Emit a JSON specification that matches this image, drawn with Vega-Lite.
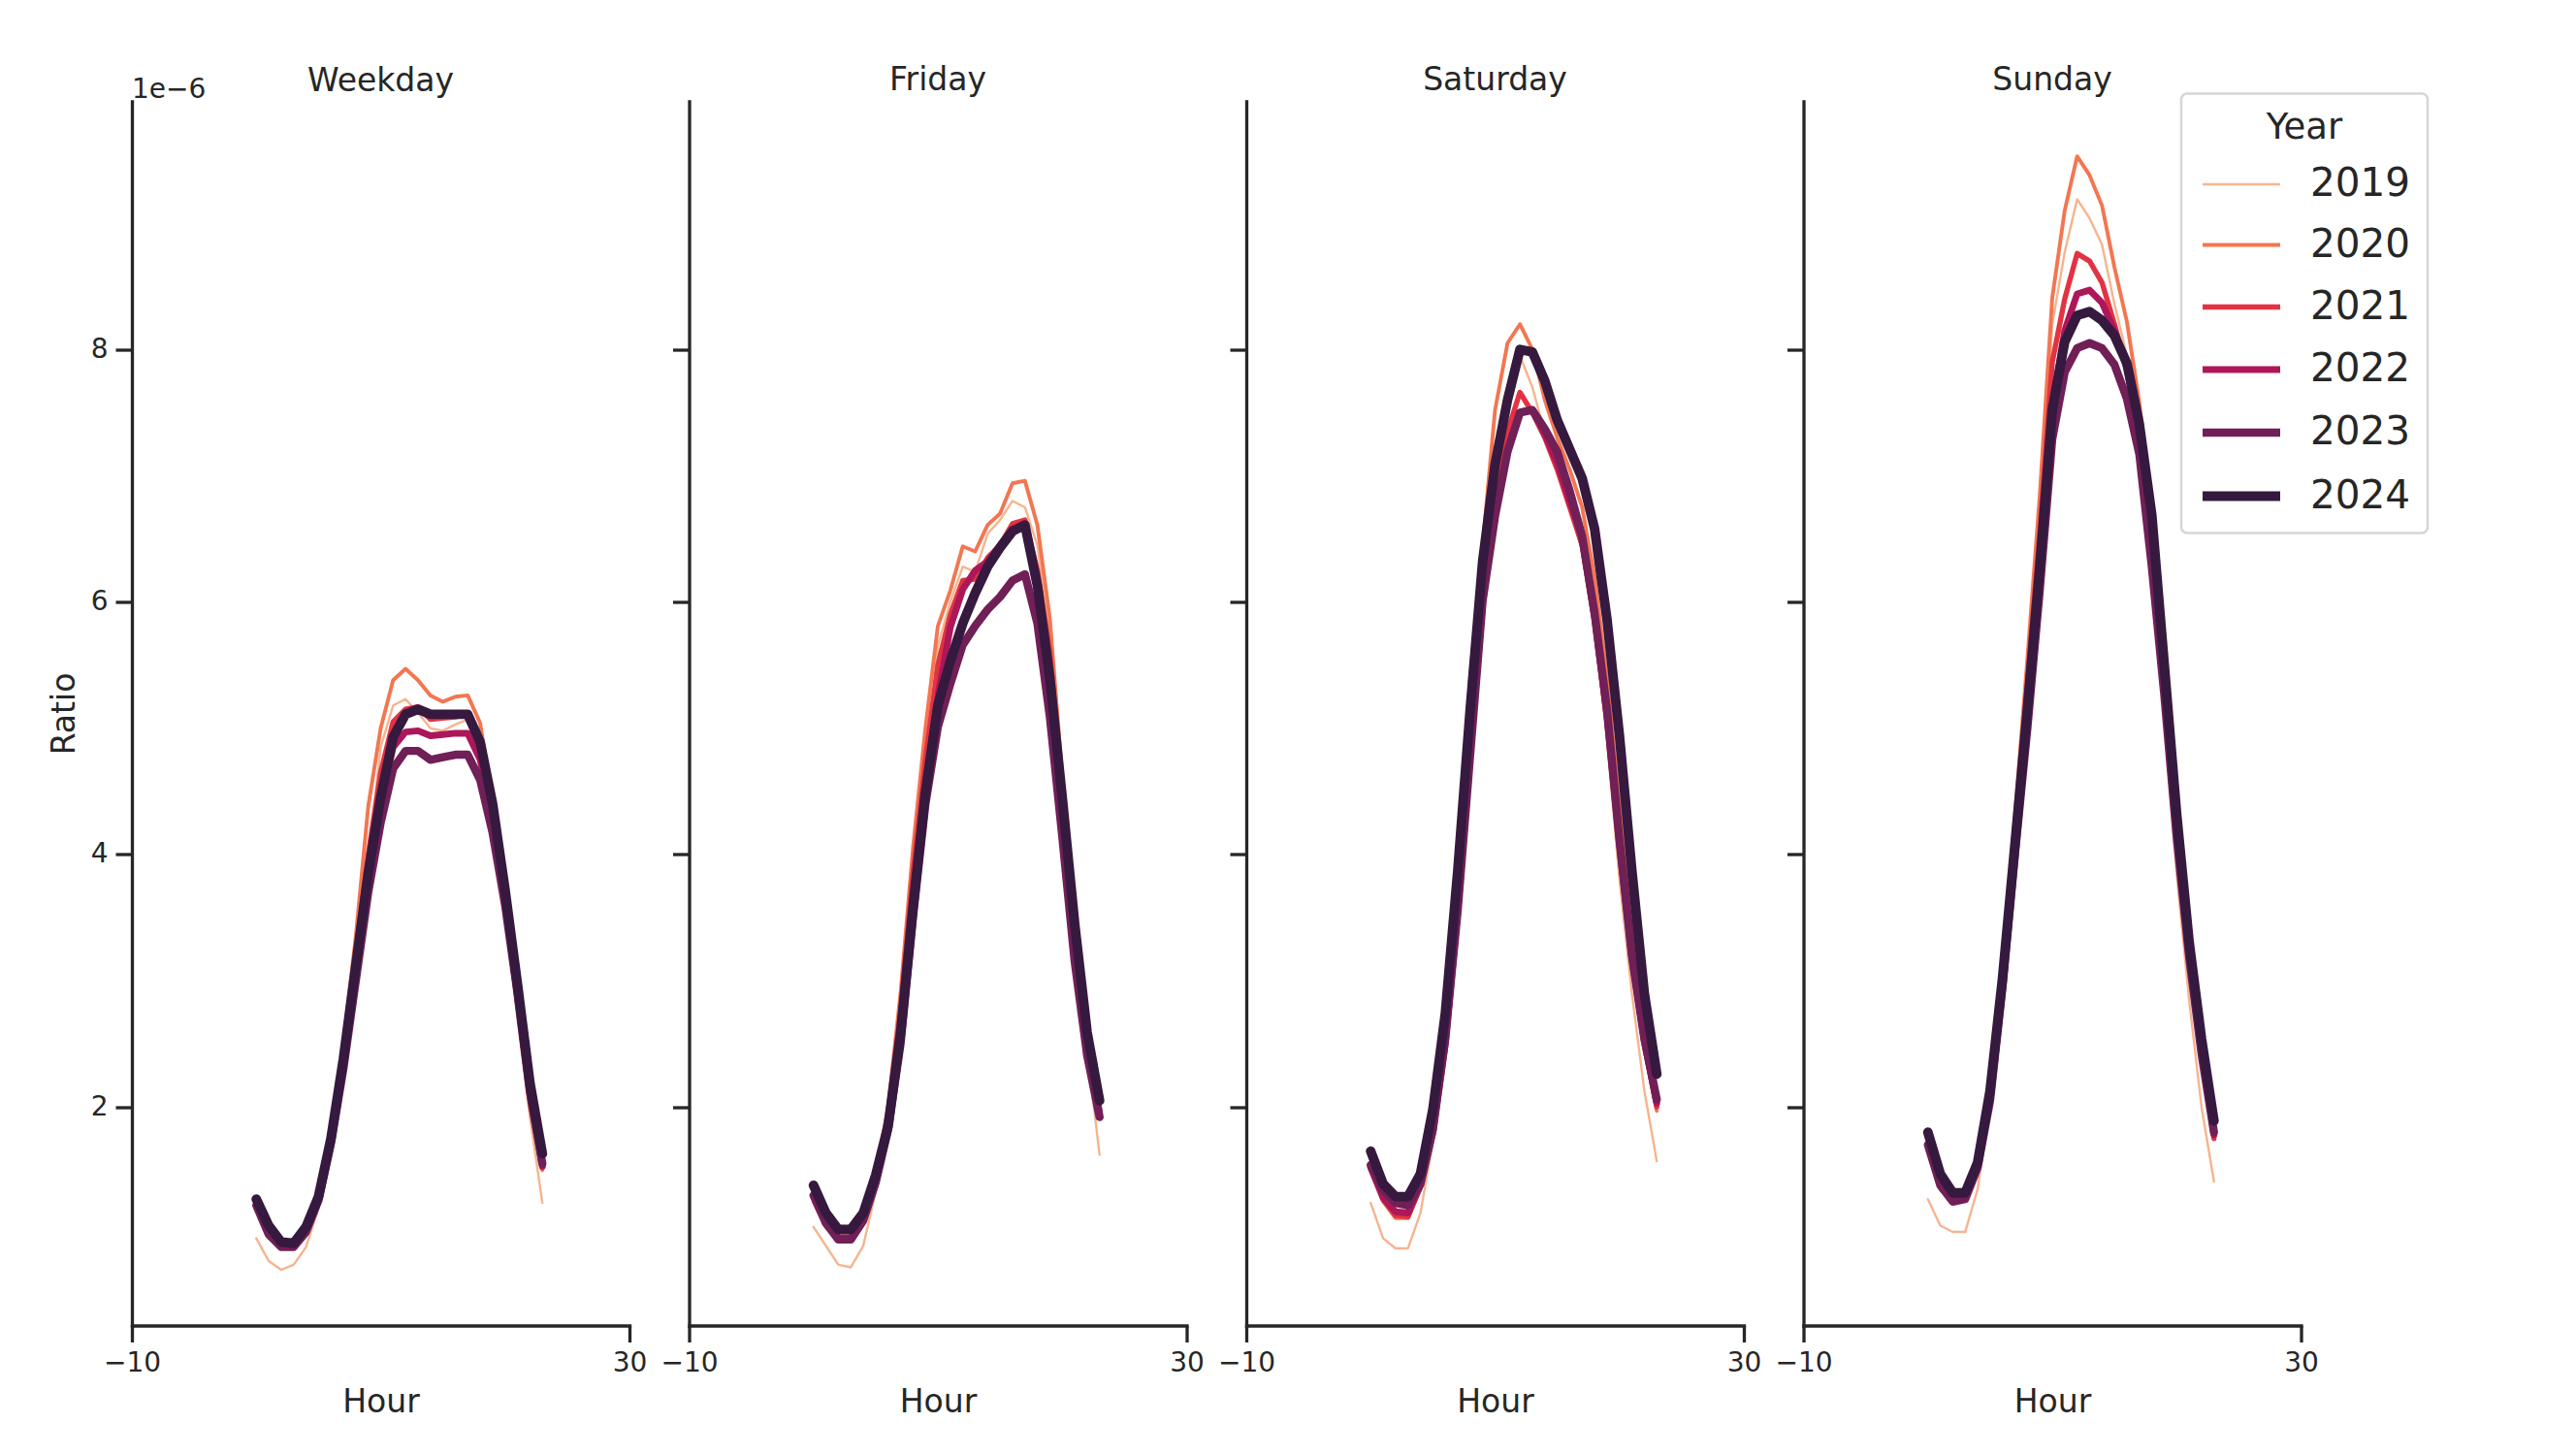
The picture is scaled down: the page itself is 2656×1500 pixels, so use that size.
{
"$schema": "https://vega.github.io/schema/vega-lite/v6.json",
"background": "white",
"padding": {"left": 50, "top": 66.5, "right": 20, "bottom": 20},
"config": {
  "font": "DejaVu Sans",
  "view": {"stroke": null},
  "axis": {"domainColor": "#262626", "domainWidth": 3.3, "domainCap": "square", "tickColor": "#262626", "tickWidth": 3.3, "tickSize": 17, "labelFontSize": 28, "labelColor": "#262626", "titleFontSize": 33, "titleFontWeight": "normal", "titleColor": "#262626", "grid": false, "labelPadding": 8, "titlePadding": 10, "labelFlush": false, "labelOverlap": false},
  "title": {"fontSize": 33, "fontWeight": "normal", "color": "#262626", "offset": 5, "anchor": "middle"},
  "legend": {"titleFontSize": 37, "titleFontWeight": "normal", "titleColor": "#262626", "labelFontSize": 40.5, "labelColor": "#262626", "strokeColor": "#d6d6d6", "strokeWidth": 2.5, "cornerRadius": 6, "padding": 17, "fillColor": "white", "labelOffset": 26, "rowPadding": 0, "titlePadding": -2, "titleAnchor": "middle", "symbolType": "stroke", "symbolSize": 6400}
},
"datasets": {"ratios": [
{"Day":"Weekday","Year":2019,"Hour":0,"Ratio":0.96e-6},{"Day":"Weekday","Year":2019,"Hour":1,"Ratio":0.78e-6},{"Day":"Weekday","Year":2019,"Hour":2,"Ratio":0.71e-6},{"Day":"Weekday","Year":2019,"Hour":3,"Ratio":0.75e-6},{"Day":"Weekday","Year":2019,"Hour":4,"Ratio":0.89e-6},{"Day":"Weekday","Year":2019,"Hour":5,"Ratio":1.20e-6},{"Day":"Weekday","Year":2019,"Hour":6,"Ratio":1.75e-6},{"Day":"Weekday","Year":2019,"Hour":7,"Ratio":2.42e-6},{"Day":"Weekday","Year":2019,"Hour":8,"Ratio":3.15e-6},{"Day":"Weekday","Year":2019,"Hour":9,"Ratio":3.95e-6},{"Day":"Weekday","Year":2019,"Hour":10,"Ratio":4.85e-6},{"Day":"Weekday","Year":2019,"Hour":11,"Ratio":5.18e-6},{"Day":"Weekday","Year":2019,"Hour":12,"Ratio":5.23e-6},{"Day":"Weekday","Year":2019,"Hour":13,"Ratio":5.12e-6},{"Day":"Weekday","Year":2019,"Hour":14,"Ratio":5.00e-6},{"Day":"Weekday","Year":2019,"Hour":15,"Ratio":4.98e-6},{"Day":"Weekday","Year":2019,"Hour":16,"Ratio":5.03e-6},{"Day":"Weekday","Year":2019,"Hour":17,"Ratio":5.07e-6},{"Day":"Weekday","Year":2019,"Hour":18,"Ratio":4.86e-6},{"Day":"Weekday","Year":2019,"Hour":19,"Ratio":4.32e-6},{"Day":"Weekday","Year":2019,"Hour":20,"Ratio":3.55e-6},{"Day":"Weekday","Year":2019,"Hour":21,"Ratio":2.70e-6},{"Day":"Weekday","Year":2019,"Hour":22,"Ratio":1.92e-6},{"Day":"Weekday","Year":2019,"Hour":23,"Ratio":1.24e-6},
{"Day":"Weekday","Year":2020,"Hour":0,"Ratio":1.20e-6},{"Day":"Weekday","Year":2020,"Hour":1,"Ratio":0.97e-6},{"Day":"Weekday","Year":2020,"Hour":2,"Ratio":0.88e-6},{"Day":"Weekday","Year":2020,"Hour":3,"Ratio":0.88e-6},{"Day":"Weekday","Year":2020,"Hour":4,"Ratio":1.00e-6},{"Day":"Weekday","Year":2020,"Hour":5,"Ratio":1.25e-6},{"Day":"Weekday","Year":2020,"Hour":6,"Ratio":1.75e-6},{"Day":"Weekday","Year":2020,"Hour":7,"Ratio":2.50e-6},{"Day":"Weekday","Year":2020,"Hour":8,"Ratio":3.35e-6},{"Day":"Weekday","Year":2020,"Hour":9,"Ratio":4.38e-6},{"Day":"Weekday","Year":2020,"Hour":10,"Ratio":5.00e-6},{"Day":"Weekday","Year":2020,"Hour":11,"Ratio":5.38e-6},{"Day":"Weekday","Year":2020,"Hour":12,"Ratio":5.47e-6},{"Day":"Weekday","Year":2020,"Hour":13,"Ratio":5.38e-6},{"Day":"Weekday","Year":2020,"Hour":14,"Ratio":5.26e-6},{"Day":"Weekday","Year":2020,"Hour":15,"Ratio":5.21e-6},{"Day":"Weekday","Year":2020,"Hour":16,"Ratio":5.25e-6},{"Day":"Weekday","Year":2020,"Hour":17,"Ratio":5.26e-6},{"Day":"Weekday","Year":2020,"Hour":18,"Ratio":5.04e-6},{"Day":"Weekday","Year":2020,"Hour":19,"Ratio":4.40e-6},{"Day":"Weekday","Year":2020,"Hour":20,"Ratio":3.65e-6},{"Day":"Weekday","Year":2020,"Hour":21,"Ratio":2.80e-6},{"Day":"Weekday","Year":2020,"Hour":22,"Ratio":2.00e-6},{"Day":"Weekday","Year":2020,"Hour":23,"Ratio":1.50e-6},
{"Day":"Weekday","Year":2021,"Hour":0,"Ratio":1.22e-6},{"Day":"Weekday","Year":2021,"Hour":1,"Ratio":1.00e-6},{"Day":"Weekday","Year":2021,"Hour":2,"Ratio":0.90e-6},{"Day":"Weekday","Year":2021,"Hour":3,"Ratio":0.90e-6},{"Day":"Weekday","Year":2021,"Hour":4,"Ratio":1.02e-6},{"Day":"Weekday","Year":2021,"Hour":5,"Ratio":1.27e-6},{"Day":"Weekday","Year":2021,"Hour":6,"Ratio":1.75e-6},{"Day":"Weekday","Year":2021,"Hour":7,"Ratio":2.40e-6},{"Day":"Weekday","Year":2021,"Hour":8,"Ratio":3.20e-6},{"Day":"Weekday","Year":2021,"Hour":9,"Ratio":4.00e-6},{"Day":"Weekday","Year":2021,"Hour":10,"Ratio":4.65e-6},{"Day":"Weekday","Year":2021,"Hour":11,"Ratio":5.05e-6},{"Day":"Weekday","Year":2021,"Hour":12,"Ratio":5.15e-6},{"Day":"Weekday","Year":2021,"Hour":13,"Ratio":5.17e-6},{"Day":"Weekday","Year":2021,"Hour":14,"Ratio":5.07e-6},{"Day":"Weekday","Year":2021,"Hour":15,"Ratio":5.08e-6},{"Day":"Weekday","Year":2021,"Hour":16,"Ratio":5.09e-6},{"Day":"Weekday","Year":2021,"Hour":17,"Ratio":5.11e-6},{"Day":"Weekday","Year":2021,"Hour":18,"Ratio":4.90e-6},{"Day":"Weekday","Year":2021,"Hour":19,"Ratio":4.38e-6},{"Day":"Weekday","Year":2021,"Hour":20,"Ratio":3.65e-6},{"Day":"Weekday","Year":2021,"Hour":21,"Ratio":2.88e-6},{"Day":"Weekday","Year":2021,"Hour":22,"Ratio":2.10e-6},{"Day":"Weekday","Year":2021,"Hour":23,"Ratio":1.52e-6},
{"Day":"Weekday","Year":2022,"Hour":0,"Ratio":1.22e-6},{"Day":"Weekday","Year":2022,"Hour":1,"Ratio":0.99e-6},{"Day":"Weekday","Year":2022,"Hour":2,"Ratio":0.89e-6},{"Day":"Weekday","Year":2022,"Hour":3,"Ratio":0.89e-6},{"Day":"Weekday","Year":2022,"Hour":4,"Ratio":1.01e-6},{"Day":"Weekday","Year":2022,"Hour":5,"Ratio":1.27e-6},{"Day":"Weekday","Year":2022,"Hour":6,"Ratio":1.73e-6},{"Day":"Weekday","Year":2022,"Hour":7,"Ratio":2.35e-6},{"Day":"Weekday","Year":2022,"Hour":8,"Ratio":3.10e-6},{"Day":"Weekday","Year":2022,"Hour":9,"Ratio":3.85e-6},{"Day":"Weekday","Year":2022,"Hour":10,"Ratio":4.40e-6},{"Day":"Weekday","Year":2022,"Hour":11,"Ratio":4.85e-6},{"Day":"Weekday","Year":2022,"Hour":12,"Ratio":4.97e-6},{"Day":"Weekday","Year":2022,"Hour":13,"Ratio":4.98e-6},{"Day":"Weekday","Year":2022,"Hour":14,"Ratio":4.94e-6},{"Day":"Weekday","Year":2022,"Hour":15,"Ratio":4.95e-6},{"Day":"Weekday","Year":2022,"Hour":16,"Ratio":4.96e-6},{"Day":"Weekday","Year":2022,"Hour":17,"Ratio":4.96e-6},{"Day":"Weekday","Year":2022,"Hour":18,"Ratio":4.75e-6},{"Day":"Weekday","Year":2022,"Hour":19,"Ratio":4.28e-6},{"Day":"Weekday","Year":2022,"Hour":20,"Ratio":3.62e-6},{"Day":"Weekday","Year":2022,"Hour":21,"Ratio":2.88e-6},{"Day":"Weekday","Year":2022,"Hour":22,"Ratio":2.10e-6},{"Day":"Weekday","Year":2022,"Hour":23,"Ratio":1.53e-6},
{"Day":"Weekday","Year":2023,"Hour":0,"Ratio":1.22e-6},{"Day":"Weekday","Year":2023,"Hour":1,"Ratio":0.99e-6},{"Day":"Weekday","Year":2023,"Hour":2,"Ratio":0.89e-6},{"Day":"Weekday","Year":2023,"Hour":3,"Ratio":0.89e-6},{"Day":"Weekday","Year":2023,"Hour":4,"Ratio":1.01e-6},{"Day":"Weekday","Year":2023,"Hour":5,"Ratio":1.26e-6},{"Day":"Weekday","Year":2023,"Hour":6,"Ratio":1.71e-6},{"Day":"Weekday","Year":2023,"Hour":7,"Ratio":2.30e-6},{"Day":"Weekday","Year":2023,"Hour":8,"Ratio":3.00e-6},{"Day":"Weekday","Year":2023,"Hour":9,"Ratio":3.70e-6},{"Day":"Weekday","Year":2023,"Hour":10,"Ratio":4.25e-6},{"Day":"Weekday","Year":2023,"Hour":11,"Ratio":4.68e-6},{"Day":"Weekday","Year":2023,"Hour":12,"Ratio":4.82e-6},{"Day":"Weekday","Year":2023,"Hour":13,"Ratio":4.82e-6},{"Day":"Weekday","Year":2023,"Hour":14,"Ratio":4.75e-6},{"Day":"Weekday","Year":2023,"Hour":15,"Ratio":4.77e-6},{"Day":"Weekday","Year":2023,"Hour":16,"Ratio":4.79e-6},{"Day":"Weekday","Year":2023,"Hour":17,"Ratio":4.79e-6},{"Day":"Weekday","Year":2023,"Hour":18,"Ratio":4.59e-6},{"Day":"Weekday","Year":2023,"Hour":19,"Ratio":4.17e-6},{"Day":"Weekday","Year":2023,"Hour":20,"Ratio":3.60e-6},{"Day":"Weekday","Year":2023,"Hour":21,"Ratio":2.90e-6},{"Day":"Weekday","Year":2023,"Hour":22,"Ratio":2.12e-6},{"Day":"Weekday","Year":2023,"Hour":23,"Ratio":1.55e-6},
{"Day":"Weekday","Year":2024,"Hour":0,"Ratio":1.27e-6},{"Day":"Weekday","Year":2024,"Hour":1,"Ratio":1.06e-6},{"Day":"Weekday","Year":2024,"Hour":2,"Ratio":0.93e-6},{"Day":"Weekday","Year":2024,"Hour":3,"Ratio":0.92e-6},{"Day":"Weekday","Year":2024,"Hour":4,"Ratio":1.05e-6},{"Day":"Weekday","Year":2024,"Hour":5,"Ratio":1.29e-6},{"Day":"Weekday","Year":2024,"Hour":6,"Ratio":1.75e-6},{"Day":"Weekday","Year":2024,"Hour":7,"Ratio":2.38e-6},{"Day":"Weekday","Year":2024,"Hour":8,"Ratio":3.12e-6},{"Day":"Weekday","Year":2024,"Hour":9,"Ratio":3.85e-6},{"Day":"Weekday","Year":2024,"Hour":10,"Ratio":4.45e-6},{"Day":"Weekday","Year":2024,"Hour":11,"Ratio":4.93e-6},{"Day":"Weekday","Year":2024,"Hour":12,"Ratio":5.11e-6},{"Day":"Weekday","Year":2024,"Hour":13,"Ratio":5.15e-6},{"Day":"Weekday","Year":2024,"Hour":14,"Ratio":5.11e-6},{"Day":"Weekday","Year":2024,"Hour":15,"Ratio":5.11e-6},{"Day":"Weekday","Year":2024,"Hour":16,"Ratio":5.11e-6},{"Day":"Weekday","Year":2024,"Hour":17,"Ratio":5.11e-6},{"Day":"Weekday","Year":2024,"Hour":18,"Ratio":4.89e-6},{"Day":"Weekday","Year":2024,"Hour":19,"Ratio":4.40e-6},{"Day":"Weekday","Year":2024,"Hour":20,"Ratio":3.72e-6},{"Day":"Weekday","Year":2024,"Hour":21,"Ratio":2.97e-6},{"Day":"Weekday","Year":2024,"Hour":22,"Ratio":2.19e-6},{"Day":"Weekday","Year":2024,"Hour":23,"Ratio":1.63e-6},
{"Day":"Friday","Year":2019,"Hour":0,"Ratio":1.05e-6},{"Day":"Friday","Year":2019,"Hour":1,"Ratio":0.90e-6},{"Day":"Friday","Year":2019,"Hour":2,"Ratio":0.75e-6},{"Day":"Friday","Year":2019,"Hour":3,"Ratio":0.73e-6},{"Day":"Friday","Year":2019,"Hour":4,"Ratio":0.90e-6},{"Day":"Friday","Year":2019,"Hour":5,"Ratio":1.33e-6},{"Day":"Friday","Year":2019,"Hour":6,"Ratio":1.90e-6},{"Day":"Friday","Year":2019,"Hour":7,"Ratio":2.67e-6},{"Day":"Friday","Year":2019,"Hour":8,"Ratio":3.67e-6},{"Day":"Friday","Year":2019,"Hour":9,"Ratio":4.58e-6},{"Day":"Friday","Year":2019,"Hour":10,"Ratio":5.65e-6},{"Day":"Friday","Year":2019,"Hour":11,"Ratio":6.00e-6},{"Day":"Friday","Year":2019,"Hour":12,"Ratio":6.28e-6},{"Day":"Friday","Year":2019,"Hour":13,"Ratio":6.24e-6},{"Day":"Friday","Year":2019,"Hour":14,"Ratio":6.54e-6},{"Day":"Friday","Year":2019,"Hour":15,"Ratio":6.65e-6},{"Day":"Friday","Year":2019,"Hour":16,"Ratio":6.80e-6},{"Day":"Friday","Year":2019,"Hour":17,"Ratio":6.75e-6},{"Day":"Friday","Year":2019,"Hour":18,"Ratio":6.45e-6},{"Day":"Friday","Year":2019,"Hour":19,"Ratio":5.70e-6},{"Day":"Friday","Year":2019,"Hour":20,"Ratio":4.50e-6},{"Day":"Friday","Year":2019,"Hour":21,"Ratio":3.40e-6},{"Day":"Friday","Year":2019,"Hour":22,"Ratio":2.45e-6},{"Day":"Friday","Year":2019,"Hour":23,"Ratio":1.62e-6},
{"Day":"Friday","Year":2020,"Hour":0,"Ratio":1.25e-6},{"Day":"Friday","Year":2020,"Hour":1,"Ratio":1.05e-6},{"Day":"Friday","Year":2020,"Hour":2,"Ratio":0.95e-6},{"Day":"Friday","Year":2020,"Hour":3,"Ratio":0.95e-6},{"Day":"Friday","Year":2020,"Hour":4,"Ratio":1.10e-6},{"Day":"Friday","Year":2020,"Hour":5,"Ratio":1.45e-6},{"Day":"Friday","Year":2020,"Hour":6,"Ratio":2.00e-6},{"Day":"Friday","Year":2020,"Hour":7,"Ratio":2.90e-6},{"Day":"Friday","Year":2020,"Hour":8,"Ratio":4.05e-6},{"Day":"Friday","Year":2020,"Hour":9,"Ratio":5.00e-6},{"Day":"Friday","Year":2020,"Hour":10,"Ratio":5.81e-6},{"Day":"Friday","Year":2020,"Hour":11,"Ratio":6.09e-6},{"Day":"Friday","Year":2020,"Hour":12,"Ratio":6.44e-6},{"Day":"Friday","Year":2020,"Hour":13,"Ratio":6.40e-6},{"Day":"Friday","Year":2020,"Hour":14,"Ratio":6.61e-6},{"Day":"Friday","Year":2020,"Hour":15,"Ratio":6.70e-6},{"Day":"Friday","Year":2020,"Hour":16,"Ratio":6.94e-6},{"Day":"Friday","Year":2020,"Hour":17,"Ratio":6.96e-6},{"Day":"Friday","Year":2020,"Hour":18,"Ratio":6.61e-6},{"Day":"Friday","Year":2020,"Hour":19,"Ratio":5.87e-6},{"Day":"Friday","Year":2020,"Hour":20,"Ratio":4.62e-6},{"Day":"Friday","Year":2020,"Hour":21,"Ratio":3.54e-6},{"Day":"Friday","Year":2020,"Hour":22,"Ratio":2.63e-6},{"Day":"Friday","Year":2020,"Hour":23,"Ratio":1.98e-6},
{"Day":"Friday","Year":2021,"Hour":0,"Ratio":1.30e-6},{"Day":"Friday","Year":2021,"Hour":1,"Ratio":1.08e-6},{"Day":"Friday","Year":2021,"Hour":2,"Ratio":0.97e-6},{"Day":"Friday","Year":2021,"Hour":3,"Ratio":0.97e-6},{"Day":"Friday","Year":2021,"Hour":4,"Ratio":1.12e-6},{"Day":"Friday","Year":2021,"Hour":5,"Ratio":1.45e-6},{"Day":"Friday","Year":2021,"Hour":6,"Ratio":1.95e-6},{"Day":"Friday","Year":2021,"Hour":7,"Ratio":2.75e-6},{"Day":"Friday","Year":2021,"Hour":8,"Ratio":3.85e-6},{"Day":"Friday","Year":2021,"Hour":9,"Ratio":4.75e-6},{"Day":"Friday","Year":2021,"Hour":10,"Ratio":5.50e-6},{"Day":"Friday","Year":2021,"Hour":11,"Ratio":5.90e-6},{"Day":"Friday","Year":2021,"Hour":12,"Ratio":6.17e-6},{"Day":"Friday","Year":2021,"Hour":13,"Ratio":6.18e-6},{"Day":"Friday","Year":2021,"Hour":14,"Ratio":6.35e-6},{"Day":"Friday","Year":2021,"Hour":15,"Ratio":6.45e-6},{"Day":"Friday","Year":2021,"Hour":16,"Ratio":6.62e-6},{"Day":"Friday","Year":2021,"Hour":17,"Ratio":6.65e-6},{"Day":"Friday","Year":2021,"Hour":18,"Ratio":6.25e-6},{"Day":"Friday","Year":2021,"Hour":19,"Ratio":5.60e-6},{"Day":"Friday","Year":2021,"Hour":20,"Ratio":4.50e-6},{"Day":"Friday","Year":2021,"Hour":21,"Ratio":3.45e-6},{"Day":"Friday","Year":2021,"Hour":22,"Ratio":2.55e-6},{"Day":"Friday","Year":2021,"Hour":23,"Ratio":1.95e-6},
{"Day":"Friday","Year":2022,"Hour":0,"Ratio":1.30e-6},{"Day":"Friday","Year":2022,"Hour":1,"Ratio":1.08e-6},{"Day":"Friday","Year":2022,"Hour":2,"Ratio":0.96e-6},{"Day":"Friday","Year":2022,"Hour":3,"Ratio":0.96e-6},{"Day":"Friday","Year":2022,"Hour":4,"Ratio":1.11e-6},{"Day":"Friday","Year":2022,"Hour":5,"Ratio":1.43e-6},{"Day":"Friday","Year":2022,"Hour":6,"Ratio":1.88e-6},{"Day":"Friday","Year":2022,"Hour":7,"Ratio":2.62e-6},{"Day":"Friday","Year":2022,"Hour":8,"Ratio":3.65e-6},{"Day":"Friday","Year":2022,"Hour":9,"Ratio":4.55e-6},{"Day":"Friday","Year":2022,"Hour":10,"Ratio":5.25e-6},{"Day":"Friday","Year":2022,"Hour":11,"Ratio":5.80e-6},{"Day":"Friday","Year":2022,"Hour":12,"Ratio":6.10e-6},{"Day":"Friday","Year":2022,"Hour":13,"Ratio":6.25e-6},{"Day":"Friday","Year":2022,"Hour":14,"Ratio":6.32e-6},{"Day":"Friday","Year":2022,"Hour":15,"Ratio":6.45e-6},{"Day":"Friday","Year":2022,"Hour":16,"Ratio":6.58e-6},{"Day":"Friday","Year":2022,"Hour":17,"Ratio":6.60e-6},{"Day":"Friday","Year":2022,"Hour":18,"Ratio":6.18e-6},{"Day":"Friday","Year":2022,"Hour":19,"Ratio":5.45e-6},{"Day":"Friday","Year":2022,"Hour":20,"Ratio":4.40e-6},{"Day":"Friday","Year":2022,"Hour":21,"Ratio":3.40e-6},{"Day":"Friday","Year":2022,"Hour":22,"Ratio":2.55e-6},{"Day":"Friday","Year":2022,"Hour":23,"Ratio":1.95e-6},
{"Day":"Friday","Year":2023,"Hour":0,"Ratio":1.30e-6},{"Day":"Friday","Year":2023,"Hour":1,"Ratio":1.08e-6},{"Day":"Friday","Year":2023,"Hour":2,"Ratio":0.95e-6},{"Day":"Friday","Year":2023,"Hour":3,"Ratio":0.95e-6},{"Day":"Friday","Year":2023,"Hour":4,"Ratio":1.10e-6},{"Day":"Friday","Year":2023,"Hour":5,"Ratio":1.40e-6},{"Day":"Friday","Year":2023,"Hour":6,"Ratio":1.82e-6},{"Day":"Friday","Year":2023,"Hour":7,"Ratio":2.50e-6},{"Day":"Friday","Year":2023,"Hour":8,"Ratio":3.50e-6},{"Day":"Friday","Year":2023,"Hour":9,"Ratio":4.40e-6},{"Day":"Friday","Year":2023,"Hour":10,"Ratio":5.01e-6},{"Day":"Friday","Year":2023,"Hour":11,"Ratio":5.35e-6},{"Day":"Friday","Year":2023,"Hour":12,"Ratio":5.66e-6},{"Day":"Friday","Year":2023,"Hour":13,"Ratio":5.81e-6},{"Day":"Friday","Year":2023,"Hour":14,"Ratio":5.94e-6},{"Day":"Friday","Year":2023,"Hour":15,"Ratio":6.04e-6},{"Day":"Friday","Year":2023,"Hour":16,"Ratio":6.17e-6},{"Day":"Friday","Year":2023,"Hour":17,"Ratio":6.22e-6},{"Day":"Friday","Year":2023,"Hour":18,"Ratio":5.83e-6},{"Day":"Friday","Year":2023,"Hour":19,"Ratio":5.09e-6},{"Day":"Friday","Year":2023,"Hour":20,"Ratio":4.14e-6},{"Day":"Friday","Year":2023,"Hour":21,"Ratio":3.15e-6},{"Day":"Friday","Year":2023,"Hour":22,"Ratio":2.41e-6},{"Day":"Friday","Year":2023,"Hour":23,"Ratio":1.92e-6},
{"Day":"Friday","Year":2024,"Hour":0,"Ratio":1.38e-6},{"Day":"Friday","Year":2024,"Hour":1,"Ratio":1.16e-6},{"Day":"Friday","Year":2024,"Hour":2,"Ratio":1.03e-6},{"Day":"Friday","Year":2024,"Hour":3,"Ratio":1.03e-6},{"Day":"Friday","Year":2024,"Hour":4,"Ratio":1.16e-6},{"Day":"Friday","Year":2024,"Hour":5,"Ratio":1.46e-6},{"Day":"Friday","Year":2024,"Hour":6,"Ratio":1.85e-6},{"Day":"Friday","Year":2024,"Hour":7,"Ratio":2.58e-6},{"Day":"Friday","Year":2024,"Hour":8,"Ratio":3.58e-6},{"Day":"Friday","Year":2024,"Hour":9,"Ratio":4.49e-6},{"Day":"Friday","Year":2024,"Hour":10,"Ratio":5.18e-6},{"Day":"Friday","Year":2024,"Hour":11,"Ratio":5.53e-6},{"Day":"Friday","Year":2024,"Hour":12,"Ratio":5.83e-6},{"Day":"Friday","Year":2024,"Hour":13,"Ratio":6.07e-6},{"Day":"Friday","Year":2024,"Hour":14,"Ratio":6.28e-6},{"Day":"Friday","Year":2024,"Hour":15,"Ratio":6.43e-6},{"Day":"Friday","Year":2024,"Hour":16,"Ratio":6.56e-6},{"Day":"Friday","Year":2024,"Hour":17,"Ratio":6.61e-6},{"Day":"Friday","Year":2024,"Hour":18,"Ratio":6.13e-6},{"Day":"Friday","Year":2024,"Hour":19,"Ratio":5.40e-6},{"Day":"Friday","Year":2024,"Hour":20,"Ratio":4.45e-6},{"Day":"Friday","Year":2024,"Hour":21,"Ratio":3.45e-6},{"Day":"Friday","Year":2024,"Hour":22,"Ratio":2.59e-6},{"Day":"Friday","Year":2024,"Hour":23,"Ratio":2.05e-6},
{"Day":"Saturday","Year":2019,"Hour":0,"Ratio":1.24e-6},{"Day":"Saturday","Year":2019,"Hour":1,"Ratio":0.96e-6},{"Day":"Saturday","Year":2019,"Hour":2,"Ratio":0.88e-6},{"Day":"Saturday","Year":2019,"Hour":3,"Ratio":0.88e-6},{"Day":"Saturday","Year":2019,"Hour":4,"Ratio":1.16e-6},{"Day":"Saturday","Year":2019,"Hour":5,"Ratio":1.72e-6},{"Day":"Saturday","Year":2019,"Hour":6,"Ratio":2.40e-6},{"Day":"Saturday","Year":2019,"Hour":7,"Ratio":3.46e-6},{"Day":"Saturday","Year":2019,"Hour":8,"Ratio":4.79e-6},{"Day":"Saturday","Year":2019,"Hour":9,"Ratio":6.12e-6},{"Day":"Saturday","Year":2019,"Hour":10,"Ratio":7.09e-6},{"Day":"Saturday","Year":2019,"Hour":11,"Ratio":7.70e-6},{"Day":"Saturday","Year":2019,"Hour":12,"Ratio":7.95e-6},{"Day":"Saturday","Year":2019,"Hour":13,"Ratio":7.70e-6},{"Day":"Saturday","Year":2019,"Hour":14,"Ratio":7.34e-6},{"Day":"Saturday","Year":2019,"Hour":15,"Ratio":7.05e-6},{"Day":"Saturday","Year":2019,"Hour":16,"Ratio":6.75e-6},{"Day":"Saturday","Year":2019,"Hour":17,"Ratio":6.40e-6},{"Day":"Saturday","Year":2019,"Hour":18,"Ratio":5.80e-6},{"Day":"Saturday","Year":2019,"Hour":19,"Ratio":4.90e-6},{"Day":"Saturday","Year":2019,"Hour":20,"Ratio":3.80e-6},{"Day":"Saturday","Year":2019,"Hour":21,"Ratio":2.90e-6},{"Day":"Saturday","Year":2019,"Hour":22,"Ratio":2.13e-6},{"Day":"Saturday","Year":2019,"Hour":23,"Ratio":1.57e-6},
{"Day":"Saturday","Year":2020,"Hour":0,"Ratio":1.50e-6},{"Day":"Saturday","Year":2020,"Hour":1,"Ratio":1.25e-6},{"Day":"Saturday","Year":2020,"Hour":2,"Ratio":1.12e-6},{"Day":"Saturday","Year":2020,"Hour":3,"Ratio":1.12e-6},{"Day":"Saturday","Year":2020,"Hour":4,"Ratio":1.35e-6},{"Day":"Saturday","Year":2020,"Hour":5,"Ratio":1.85e-6},{"Day":"Saturday","Year":2020,"Hour":6,"Ratio":2.55e-6},{"Day":"Saturday","Year":2020,"Hour":7,"Ratio":3.90e-6},{"Day":"Saturday","Year":2020,"Hour":8,"Ratio":5.40e-6},{"Day":"Saturday","Year":2020,"Hour":9,"Ratio":6.45e-6},{"Day":"Saturday","Year":2020,"Hour":10,"Ratio":7.52e-6},{"Day":"Saturday","Year":2020,"Hour":11,"Ratio":8.05e-6},{"Day":"Saturday","Year":2020,"Hour":12,"Ratio":8.20e-6},{"Day":"Saturday","Year":2020,"Hour":13,"Ratio":8.00e-6},{"Day":"Saturday","Year":2020,"Hour":14,"Ratio":7.60e-6},{"Day":"Saturday","Year":2020,"Hour":15,"Ratio":7.30e-6},{"Day":"Saturday","Year":2020,"Hour":16,"Ratio":7.05e-6},{"Day":"Saturday","Year":2020,"Hour":17,"Ratio":6.75e-6},{"Day":"Saturday","Year":2020,"Hour":18,"Ratio":6.20e-6},{"Day":"Saturday","Year":2020,"Hour":19,"Ratio":5.40e-6},{"Day":"Saturday","Year":2020,"Hour":20,"Ratio":4.40e-6},{"Day":"Saturday","Year":2020,"Hour":21,"Ratio":3.40e-6},{"Day":"Saturday","Year":2020,"Hour":22,"Ratio":2.50e-6},{"Day":"Saturday","Year":2020,"Hour":23,"Ratio":1.97e-6},
{"Day":"Saturday","Year":2021,"Hour":0,"Ratio":1.52e-6},{"Day":"Saturday","Year":2021,"Hour":1,"Ratio":1.27e-6},{"Day":"Saturday","Year":2021,"Hour":2,"Ratio":1.14e-6},{"Day":"Saturday","Year":2021,"Hour":3,"Ratio":1.13e-6},{"Day":"Saturday","Year":2021,"Hour":4,"Ratio":1.37e-6},{"Day":"Saturday","Year":2021,"Hour":5,"Ratio":1.82e-6},{"Day":"Saturday","Year":2021,"Hour":6,"Ratio":2.50e-6},{"Day":"Saturday","Year":2021,"Hour":7,"Ratio":3.60e-6},{"Day":"Saturday","Year":2021,"Hour":8,"Ratio":4.90e-6},{"Day":"Saturday","Year":2021,"Hour":9,"Ratio":6.10e-6},{"Day":"Saturday","Year":2021,"Hour":10,"Ratio":6.85e-6},{"Day":"Saturday","Year":2021,"Hour":11,"Ratio":7.35e-6},{"Day":"Saturday","Year":2021,"Hour":12,"Ratio":7.66e-6},{"Day":"Saturday","Year":2021,"Hour":13,"Ratio":7.50e-6},{"Day":"Saturday","Year":2021,"Hour":14,"Ratio":7.30e-6},{"Day":"Saturday","Year":2021,"Hour":15,"Ratio":7.05e-6},{"Day":"Saturday","Year":2021,"Hour":16,"Ratio":6.75e-6},{"Day":"Saturday","Year":2021,"Hour":17,"Ratio":6.45e-6},{"Day":"Saturday","Year":2021,"Hour":18,"Ratio":5.85e-6},{"Day":"Saturday","Year":2021,"Hour":19,"Ratio":5.05e-6},{"Day":"Saturday","Year":2021,"Hour":20,"Ratio":4.05e-6},{"Day":"Saturday","Year":2021,"Hour":21,"Ratio":3.15e-6},{"Day":"Saturday","Year":2021,"Hour":22,"Ratio":2.50e-6},{"Day":"Saturday","Year":2021,"Hour":23,"Ratio":2.00e-6},
{"Day":"Saturday","Year":2022,"Hour":0,"Ratio":1.52e-6},{"Day":"Saturday","Year":2022,"Hour":1,"Ratio":1.28e-6},{"Day":"Saturday","Year":2022,"Hour":2,"Ratio":1.17e-6},{"Day":"Saturday","Year":2022,"Hour":3,"Ratio":1.16e-6},{"Day":"Saturday","Year":2022,"Hour":4,"Ratio":1.38e-6},{"Day":"Saturday","Year":2022,"Hour":5,"Ratio":1.80e-6},{"Day":"Saturday","Year":2022,"Hour":6,"Ratio":2.50e-6},{"Day":"Saturday","Year":2022,"Hour":7,"Ratio":3.55e-6},{"Day":"Saturday","Year":2022,"Hour":8,"Ratio":4.80e-6},{"Day":"Saturday","Year":2022,"Hour":9,"Ratio":6.00e-6},{"Day":"Saturday","Year":2022,"Hour":10,"Ratio":6.70e-6},{"Day":"Saturday","Year":2022,"Hour":11,"Ratio":7.20e-6},{"Day":"Saturday","Year":2022,"Hour":12,"Ratio":7.50e-6},{"Day":"Saturday","Year":2022,"Hour":13,"Ratio":7.52e-6},{"Day":"Saturday","Year":2022,"Hour":14,"Ratio":7.33e-6},{"Day":"Saturday","Year":2022,"Hour":15,"Ratio":7.10e-6},{"Day":"Saturday","Year":2022,"Hour":16,"Ratio":6.80e-6},{"Day":"Saturday","Year":2022,"Hour":17,"Ratio":6.50e-6},{"Day":"Saturday","Year":2022,"Hour":18,"Ratio":5.88e-6},{"Day":"Saturday","Year":2022,"Hour":19,"Ratio":5.10e-6},{"Day":"Saturday","Year":2022,"Hour":20,"Ratio":4.08e-6},{"Day":"Saturday","Year":2022,"Hour":21,"Ratio":3.18e-6},{"Day":"Saturday","Year":2022,"Hour":22,"Ratio":2.52e-6},{"Day":"Saturday","Year":2022,"Hour":23,"Ratio":2.03e-6},
{"Day":"Saturday","Year":2023,"Hour":0,"Ratio":1.54e-6},{"Day":"Saturday","Year":2023,"Hour":1,"Ratio":1.34e-6},{"Day":"Saturday","Year":2023,"Hour":2,"Ratio":1.24e-6},{"Day":"Saturday","Year":2023,"Hour":3,"Ratio":1.22e-6},{"Day":"Saturday","Year":2023,"Hour":4,"Ratio":1.39e-6},{"Day":"Saturday","Year":2023,"Hour":5,"Ratio":1.82e-6},{"Day":"Saturday","Year":2023,"Hour":6,"Ratio":2.54e-6},{"Day":"Saturday","Year":2023,"Hour":7,"Ratio":3.56e-6},{"Day":"Saturday","Year":2023,"Hour":8,"Ratio":4.79e-6},{"Day":"Saturday","Year":2023,"Hour":9,"Ratio":6.01e-6},{"Day":"Saturday","Year":2023,"Hour":10,"Ratio":6.68e-6},{"Day":"Saturday","Year":2023,"Hour":11,"Ratio":7.19e-6},{"Day":"Saturday","Year":2023,"Hour":12,"Ratio":7.50e-6},{"Day":"Saturday","Year":2023,"Hour":13,"Ratio":7.52e-6},{"Day":"Saturday","Year":2023,"Hour":14,"Ratio":7.37e-6},{"Day":"Saturday","Year":2023,"Hour":15,"Ratio":7.19e-6},{"Day":"Saturday","Year":2023,"Hour":16,"Ratio":6.88e-6},{"Day":"Saturday","Year":2023,"Hour":17,"Ratio":6.52e-6},{"Day":"Saturday","Year":2023,"Hour":18,"Ratio":5.91e-6},{"Day":"Saturday","Year":2023,"Hour":19,"Ratio":5.15e-6},{"Day":"Saturday","Year":2023,"Hour":20,"Ratio":4.12e-6},{"Day":"Saturday","Year":2023,"Hour":21,"Ratio":3.20e-6},{"Day":"Saturday","Year":2023,"Hour":22,"Ratio":2.54e-6},{"Day":"Saturday","Year":2023,"Hour":23,"Ratio":2.06e-6},
{"Day":"Saturday","Year":2024,"Hour":0,"Ratio":1.65e-6},{"Day":"Saturday","Year":2024,"Hour":1,"Ratio":1.39e-6},{"Day":"Saturday","Year":2024,"Hour":2,"Ratio":1.29e-6},{"Day":"Saturday","Year":2024,"Hour":3,"Ratio":1.29e-6},{"Day":"Saturday","Year":2024,"Hour":4,"Ratio":1.47e-6},{"Day":"Saturday","Year":2024,"Hour":5,"Ratio":1.98e-6},{"Day":"Saturday","Year":2024,"Hour":6,"Ratio":2.74e-6},{"Day":"Saturday","Year":2024,"Hour":7,"Ratio":3.87e-6},{"Day":"Saturday","Year":2024,"Hour":8,"Ratio":5.15e-6},{"Day":"Saturday","Year":2024,"Hour":9,"Ratio":6.32e-6},{"Day":"Saturday","Year":2024,"Hour":10,"Ratio":7.09e-6},{"Day":"Saturday","Year":2024,"Hour":11,"Ratio":7.60e-6},{"Day":"Saturday","Year":2024,"Hour":12,"Ratio":8.00e-6},{"Day":"Saturday","Year":2024,"Hour":13,"Ratio":7.98e-6},{"Day":"Saturday","Year":2024,"Hour":14,"Ratio":7.75e-6},{"Day":"Saturday","Year":2024,"Hour":15,"Ratio":7.44e-6},{"Day":"Saturday","Year":2024,"Hour":16,"Ratio":7.21e-6},{"Day":"Saturday","Year":2024,"Hour":17,"Ratio":6.98e-6},{"Day":"Saturday","Year":2024,"Hour":18,"Ratio":6.58e-6},{"Day":"Saturday","Year":2024,"Hour":19,"Ratio":5.86e-6},{"Day":"Saturday","Year":2024,"Hour":20,"Ratio":4.94e-6},{"Day":"Saturday","Year":2024,"Hour":21,"Ratio":3.87e-6},{"Day":"Saturday","Year":2024,"Hour":22,"Ratio":2.90e-6},{"Day":"Saturday","Year":2024,"Hour":23,"Ratio":2.26e-6},
{"Day":"Sunday","Year":2019,"Hour":0,"Ratio":1.27e-6},{"Day":"Sunday","Year":2019,"Hour":1,"Ratio":1.06e-6},{"Day":"Sunday","Year":2019,"Hour":2,"Ratio":1.01e-6},{"Day":"Sunday","Year":2019,"Hour":3,"Ratio":1.01e-6},{"Day":"Sunday","Year":2019,"Hour":4,"Ratio":1.35e-6},{"Day":"Sunday","Year":2019,"Hour":5,"Ratio":2.05e-6},{"Day":"Sunday","Year":2019,"Hour":6,"Ratio":3.00e-6},{"Day":"Sunday","Year":2019,"Hour":7,"Ratio":4.15e-6},{"Day":"Sunday","Year":2019,"Hour":8,"Ratio":5.35e-6},{"Day":"Sunday","Year":2019,"Hour":9,"Ratio":6.65e-6},{"Day":"Sunday","Year":2019,"Hour":10,"Ratio":8.20e-6},{"Day":"Sunday","Year":2019,"Hour":11,"Ratio":8.77e-6},{"Day":"Sunday","Year":2019,"Hour":12,"Ratio":9.19e-6},{"Day":"Sunday","Year":2019,"Hour":13,"Ratio":9.04e-6},{"Day":"Sunday","Year":2019,"Hour":14,"Ratio":8.83e-6},{"Day":"Sunday","Year":2019,"Hour":15,"Ratio":8.36e-6},{"Day":"Sunday","Year":2019,"Hour":16,"Ratio":7.95e-6},{"Day":"Sunday","Year":2019,"Hour":17,"Ratio":7.30e-6},{"Day":"Sunday","Year":2019,"Hour":18,"Ratio":6.40e-6},{"Day":"Sunday","Year":2019,"Hour":19,"Ratio":5.10e-6},{"Day":"Sunday","Year":2019,"Hour":20,"Ratio":3.85e-6},{"Day":"Sunday","Year":2019,"Hour":21,"Ratio":2.85e-6},{"Day":"Sunday","Year":2019,"Hour":22,"Ratio":2.00e-6},{"Day":"Sunday","Year":2019,"Hour":23,"Ratio":1.41e-6},
{"Day":"Sunday","Year":2020,"Hour":0,"Ratio":1.65e-6},{"Day":"Sunday","Year":2020,"Hour":1,"Ratio":1.35e-6},{"Day":"Sunday","Year":2020,"Hour":2,"Ratio":1.25e-6},{"Day":"Sunday","Year":2020,"Hour":3,"Ratio":1.27e-6},{"Day":"Sunday","Year":2020,"Hour":4,"Ratio":1.50e-6},{"Day":"Sunday","Year":2020,"Hour":5,"Ratio":2.10e-6},{"Day":"Sunday","Year":2020,"Hour":6,"Ratio":3.05e-6},{"Day":"Sunday","Year":2020,"Hour":7,"Ratio":4.30e-6},{"Day":"Sunday","Year":2020,"Hour":8,"Ratio":5.55e-6},{"Day":"Sunday","Year":2020,"Hour":9,"Ratio":6.85e-6},{"Day":"Sunday","Year":2020,"Hour":10,"Ratio":8.41e-6},{"Day":"Sunday","Year":2020,"Hour":11,"Ratio":9.10e-6},{"Day":"Sunday","Year":2020,"Hour":12,"Ratio":9.53e-6},{"Day":"Sunday","Year":2020,"Hour":13,"Ratio":9.38e-6},{"Day":"Sunday","Year":2020,"Hour":14,"Ratio":9.14e-6},{"Day":"Sunday","Year":2020,"Hour":15,"Ratio":8.65e-6},{"Day":"Sunday","Year":2020,"Hour":16,"Ratio":8.22e-6},{"Day":"Sunday","Year":2020,"Hour":17,"Ratio":7.58e-6},{"Day":"Sunday","Year":2020,"Hour":18,"Ratio":6.70e-6},{"Day":"Sunday","Year":2020,"Hour":19,"Ratio":5.50e-6},{"Day":"Sunday","Year":2020,"Hour":20,"Ratio":4.25e-6},{"Day":"Sunday","Year":2020,"Hour":21,"Ratio":3.20e-6},{"Day":"Sunday","Year":2020,"Hour":22,"Ratio":2.40e-6},{"Day":"Sunday","Year":2020,"Hour":23,"Ratio":1.75e-6},
{"Day":"Sunday","Year":2021,"Hour":0,"Ratio":1.68e-6},{"Day":"Sunday","Year":2021,"Hour":1,"Ratio":1.37e-6},{"Day":"Sunday","Year":2021,"Hour":2,"Ratio":1.26e-6},{"Day":"Sunday","Year":2021,"Hour":3,"Ratio":1.27e-6},{"Day":"Sunday","Year":2021,"Hour":4,"Ratio":1.52e-6},{"Day":"Sunday","Year":2021,"Hour":5,"Ratio":2.08e-6},{"Day":"Sunday","Year":2021,"Hour":6,"Ratio":3.00e-6},{"Day":"Sunday","Year":2021,"Hour":7,"Ratio":4.15e-6},{"Day":"Sunday","Year":2021,"Hour":8,"Ratio":5.35e-6},{"Day":"Sunday","Year":2021,"Hour":9,"Ratio":6.55e-6},{"Day":"Sunday","Year":2021,"Hour":10,"Ratio":7.90e-6},{"Day":"Sunday","Year":2021,"Hour":11,"Ratio":8.40e-6},{"Day":"Sunday","Year":2021,"Hour":12,"Ratio":8.76e-6},{"Day":"Sunday","Year":2021,"Hour":13,"Ratio":8.70e-6},{"Day":"Sunday","Year":2021,"Hour":14,"Ratio":8.53e-6},{"Day":"Sunday","Year":2021,"Hour":15,"Ratio":8.20e-6},{"Day":"Sunday","Year":2021,"Hour":16,"Ratio":7.85e-6},{"Day":"Sunday","Year":2021,"Hour":17,"Ratio":7.35e-6},{"Day":"Sunday","Year":2021,"Hour":18,"Ratio":6.60e-6},{"Day":"Sunday","Year":2021,"Hour":19,"Ratio":5.40e-6},{"Day":"Sunday","Year":2021,"Hour":20,"Ratio":4.20e-6},{"Day":"Sunday","Year":2021,"Hour":21,"Ratio":3.20e-6},{"Day":"Sunday","Year":2021,"Hour":22,"Ratio":2.45e-6},{"Day":"Sunday","Year":2021,"Hour":23,"Ratio":1.75e-6},
{"Day":"Sunday","Year":2022,"Hour":0,"Ratio":1.70e-6},{"Day":"Sunday","Year":2022,"Hour":1,"Ratio":1.38e-6},{"Day":"Sunday","Year":2022,"Hour":2,"Ratio":1.26e-6},{"Day":"Sunday","Year":2022,"Hour":3,"Ratio":1.27e-6},{"Day":"Sunday","Year":2022,"Hour":4,"Ratio":1.52e-6},{"Day":"Sunday","Year":2022,"Hour":5,"Ratio":2.06e-6},{"Day":"Sunday","Year":2022,"Hour":6,"Ratio":2.98e-6},{"Day":"Sunday","Year":2022,"Hour":7,"Ratio":4.05e-6},{"Day":"Sunday","Year":2022,"Hour":8,"Ratio":5.15e-6},{"Day":"Sunday","Year":2022,"Hour":9,"Ratio":6.35e-6},{"Day":"Sunday","Year":2022,"Hour":10,"Ratio":7.55e-6},{"Day":"Sunday","Year":2022,"Hour":11,"Ratio":8.15e-6},{"Day":"Sunday","Year":2022,"Hour":12,"Ratio":8.44e-6},{"Day":"Sunday","Year":2022,"Hour":13,"Ratio":8.47e-6},{"Day":"Sunday","Year":2022,"Hour":14,"Ratio":8.37e-6},{"Day":"Sunday","Year":2022,"Hour":15,"Ratio":8.15e-6},{"Day":"Sunday","Year":2022,"Hour":16,"Ratio":7.85e-6},{"Day":"Sunday","Year":2022,"Hour":17,"Ratio":7.35e-6},{"Day":"Sunday","Year":2022,"Hour":18,"Ratio":6.60e-6},{"Day":"Sunday","Year":2022,"Hour":19,"Ratio":5.45e-6},{"Day":"Sunday","Year":2022,"Hour":20,"Ratio":4.25e-6},{"Day":"Sunday","Year":2022,"Hour":21,"Ratio":3.25e-6},{"Day":"Sunday","Year":2022,"Hour":22,"Ratio":2.50e-6},{"Day":"Sunday","Year":2022,"Hour":23,"Ratio":1.78e-6},
{"Day":"Sunday","Year":2023,"Hour":0,"Ratio":1.70e-6},{"Day":"Sunday","Year":2023,"Hour":1,"Ratio":1.38e-6},{"Day":"Sunday","Year":2023,"Hour":2,"Ratio":1.25e-6},{"Day":"Sunday","Year":2023,"Hour":3,"Ratio":1.27e-6},{"Day":"Sunday","Year":2023,"Hour":4,"Ratio":1.52e-6},{"Day":"Sunday","Year":2023,"Hour":5,"Ratio":2.05e-6},{"Day":"Sunday","Year":2023,"Hour":6,"Ratio":2.95e-6},{"Day":"Sunday","Year":2023,"Hour":7,"Ratio":4.00e-6},{"Day":"Sunday","Year":2023,"Hour":8,"Ratio":5.00e-6},{"Day":"Sunday","Year":2023,"Hour":9,"Ratio":6.10e-6},{"Day":"Sunday","Year":2023,"Hour":10,"Ratio":7.29e-6},{"Day":"Sunday","Year":2023,"Hour":11,"Ratio":7.82e-6},{"Day":"Sunday","Year":2023,"Hour":12,"Ratio":8.01e-6},{"Day":"Sunday","Year":2023,"Hour":13,"Ratio":8.05e-6},{"Day":"Sunday","Year":2023,"Hour":14,"Ratio":8.01e-6},{"Day":"Sunday","Year":2023,"Hour":15,"Ratio":7.88e-6},{"Day":"Sunday","Year":2023,"Hour":16,"Ratio":7.61e-6},{"Day":"Sunday","Year":2023,"Hour":17,"Ratio":7.17e-6},{"Day":"Sunday","Year":2023,"Hour":18,"Ratio":6.28e-6},{"Day":"Sunday","Year":2023,"Hour":19,"Ratio":5.27e-6},{"Day":"Sunday","Year":2023,"Hour":20,"Ratio":4.14e-6},{"Day":"Sunday","Year":2023,"Hour":21,"Ratio":3.19e-6},{"Day":"Sunday","Year":2023,"Hour":22,"Ratio":2.42e-6},{"Day":"Sunday","Year":2023,"Hour":23,"Ratio":1.80e-6},
{"Day":"Sunday","Year":2024,"Hour":0,"Ratio":1.80e-6},{"Day":"Sunday","Year":2024,"Hour":1,"Ratio":1.47e-6},{"Day":"Sunday","Year":2024,"Hour":2,"Ratio":1.32e-6},{"Day":"Sunday","Year":2024,"Hour":3,"Ratio":1.32e-6},{"Day":"Sunday","Year":2024,"Hour":4,"Ratio":1.56e-6},{"Day":"Sunday","Year":2024,"Hour":5,"Ratio":2.13e-6},{"Day":"Sunday","Year":2024,"Hour":6,"Ratio":3.02e-6},{"Day":"Sunday","Year":2024,"Hour":7,"Ratio":4.08e-6},{"Day":"Sunday","Year":2024,"Hour":8,"Ratio":5.15e-6},{"Day":"Sunday","Year":2024,"Hour":9,"Ratio":6.28e-6},{"Day":"Sunday","Year":2024,"Hour":10,"Ratio":7.52e-6},{"Day":"Sunday","Year":2024,"Hour":11,"Ratio":8.06e-6},{"Day":"Sunday","Year":2024,"Hour":12,"Ratio":8.27e-6},{"Day":"Sunday","Year":2024,"Hour":13,"Ratio":8.30e-6},{"Day":"Sunday","Year":2024,"Hour":14,"Ratio":8.23e-6},{"Day":"Sunday","Year":2024,"Hour":15,"Ratio":8.11e-6},{"Day":"Sunday","Year":2024,"Hour":16,"Ratio":7.89e-6},{"Day":"Sunday","Year":2024,"Hour":17,"Ratio":7.41e-6},{"Day":"Sunday","Year":2024,"Hour":18,"Ratio":6.69e-6},{"Day":"Sunday","Year":2024,"Hour":19,"Ratio":5.51e-6},{"Day":"Sunday","Year":2024,"Hour":20,"Ratio":4.32e-6},{"Day":"Sunday","Year":2024,"Hour":21,"Ratio":3.31e-6},{"Day":"Sunday","Year":2024,"Hour":22,"Ratio":2.54e-6},{"Day":"Sunday","Year":2024,"Hour":23,"Ratio":1.89e-6}
]},
"spacing": 61.5,
"bounds": "flush",
"hconcat": [
 {"title": {"text": "Weekday", "offset": -22}, "width": 513, "height": 1262,
  "layer": [
   {"data": {"name": "ratios"}, "transform": [{"filter": "datum.Day == 'Weekday'"}],
    "mark": {"type": "line", "strokeCap": "round", "strokeJoin": "round"},
    "encoding": {
     "x": {"field": "Hour", "type": "quantitative", "title": "Hour", "scale": {"domain": [-10, 30], "nice": false, "zero": false}, "axis": {"values": [-10, 30], "labelExpr": "datum.value < 0 ? '−10' : '30'"}},
     "y": {"field": "Ratio", "type": "quantitative", "title": "Ratio", "scale": {"domain": [0.269e-6, 9.965e-6], "nice": false, "zero": false}, "axis": {"values": [2e-6, 4e-6, 6e-6, 8e-6], "labelExpr": "round(datum.value * 1000000)"}},
     "color": {"field": "Year", "type": "ordinal", "scale": {"domain": [2019, 2020, 2021, 2022, 2023, 2024], "range": ["#f6b48f", "#f37651", "#e13342", "#ad1759", "#701f57", "#35193e"]}, "legend": {"title": "Year", "orient": "none", "legendX": 2113, "legendY": -8}},
     "strokeWidth": {"field": "Year", "type": "ordinal", "scale": {"type": "ordinal", "domain": [2019, 2020, 2021, 2022, 2023, 2024], "range": [2.4, 3.9, 5.4, 6.9, 8.4, 9.9]}, "legend": {"title": "Year", "orient": "none", "legendX": 2113, "legendY": -8}}
    }},
   {"data": {"values": [{"Offset": "1e−6"}]},
    "mark": {"type": "text", "align": "left", "baseline": "bottom", "dy": 2, "fontSize": 28, "color": "#262626"},
    "encoding": {
     "x": {"datum": -10, "type": "quantitative", "title": "Hour"},
     "y": {"datum": 9.965e-6, "type": "quantitative", "title": "Ratio"},
     "text": {"field": "Offset"}
    }}
  ]},
 {"title": {"text": "Friday"}, "width": 513, "height": 1262,
  "data": {"name": "ratios"}, "transform": [{"filter": "datum.Day == 'Friday'"}],
  "mark": {"type": "line", "strokeCap": "round", "strokeJoin": "round"},
  "encoding": {
   "x": {"field": "Hour", "type": "quantitative", "title": "Hour", "scale": {"domain": [-10, 30], "nice": false, "zero": false}, "axis": {"values": [-10, 30], "labelExpr": "datum.value < 0 ? '−10' : '30'"}},
   "y": {"field": "Ratio", "type": "quantitative", "scale": {"domain": [0.269e-6, 9.965e-6], "nice": false, "zero": false}, "axis": {"values": [2e-6, 4e-6, 6e-6, 8e-6], "labels": false, "title": null}},
   "color": {"field": "Year", "type": "ordinal", "scale": {"domain": [2019, 2020, 2021, 2022, 2023, 2024], "range": ["#f6b48f", "#f37651", "#e13342", "#ad1759", "#701f57", "#35193e"]}, "legend": {"title": "Year", "orient": "none", "legendX": 2113, "legendY": -8}},
   "strokeWidth": {"field": "Year", "type": "ordinal", "scale": {"type": "ordinal", "domain": [2019, 2020, 2021, 2022, 2023, 2024], "range": [2.4, 3.9, 5.4, 6.9, 8.4, 9.9]}, "legend": {"title": "Year", "orient": "none", "legendX": 2113, "legendY": -8}}
  }},
 {"title": {"text": "Saturday"}, "width": 513, "height": 1262,
  "data": {"name": "ratios"}, "transform": [{"filter": "datum.Day == 'Saturday'"}],
  "mark": {"type": "line", "strokeCap": "round", "strokeJoin": "round"},
  "encoding": {
   "x": {"field": "Hour", "type": "quantitative", "title": "Hour", "scale": {"domain": [-10, 30], "nice": false, "zero": false}, "axis": {"values": [-10, 30], "labelExpr": "datum.value < 0 ? '−10' : '30'"}},
   "y": {"field": "Ratio", "type": "quantitative", "scale": {"domain": [0.269e-6, 9.965e-6], "nice": false, "zero": false}, "axis": {"values": [2e-6, 4e-6, 6e-6, 8e-6], "labels": false, "title": null}},
   "color": {"field": "Year", "type": "ordinal", "scale": {"domain": [2019, 2020, 2021, 2022, 2023, 2024], "range": ["#f6b48f", "#f37651", "#e13342", "#ad1759", "#701f57", "#35193e"]}, "legend": {"title": "Year", "orient": "none", "legendX": 2113, "legendY": -8}},
   "strokeWidth": {"field": "Year", "type": "ordinal", "scale": {"type": "ordinal", "domain": [2019, 2020, 2021, 2022, 2023, 2024], "range": [2.4, 3.9, 5.4, 6.9, 8.4, 9.9]}, "legend": {"title": "Year", "orient": "none", "legendX": 2113, "legendY": -8}}
  }},
 {"title": {"text": "Sunday"}, "width": 513, "height": 1262,
  "data": {"name": "ratios"}, "transform": [{"filter": "datum.Day == 'Sunday'"}],
  "mark": {"type": "line", "strokeCap": "round", "strokeJoin": "round"},
  "encoding": {
   "x": {"field": "Hour", "type": "quantitative", "title": "Hour", "scale": {"domain": [-10, 30], "nice": false, "zero": false}, "axis": {"values": [-10, 30], "labelExpr": "datum.value < 0 ? '−10' : '30'"}},
   "y": {"field": "Ratio", "type": "quantitative", "scale": {"domain": [0.269e-6, 9.965e-6], "nice": false, "zero": false}, "axis": {"values": [2e-6, 4e-6, 6e-6, 8e-6], "labels": false, "title": null}},
   "color": {"field": "Year", "type": "ordinal", "scale": {"domain": [2019, 2020, 2021, 2022, 2023, 2024], "range": ["#f6b48f", "#f37651", "#e13342", "#ad1759", "#701f57", "#35193e"]}, "legend": {"title": "Year", "orient": "none", "legendX": 2113, "legendY": -8}},
   "strokeWidth": {"field": "Year", "type": "ordinal", "scale": {"type": "ordinal", "domain": [2019, 2020, 2021, 2022, 2023, 2024], "range": [2.4, 3.9, 5.4, 6.9, 8.4, 9.9]}, "legend": {"title": "Year", "orient": "none", "legendX": 2113, "legendY": -8}}
  }}
],
"resolve": {"scale": {"color": "shared", "strokeWidth": "shared"}}
}
